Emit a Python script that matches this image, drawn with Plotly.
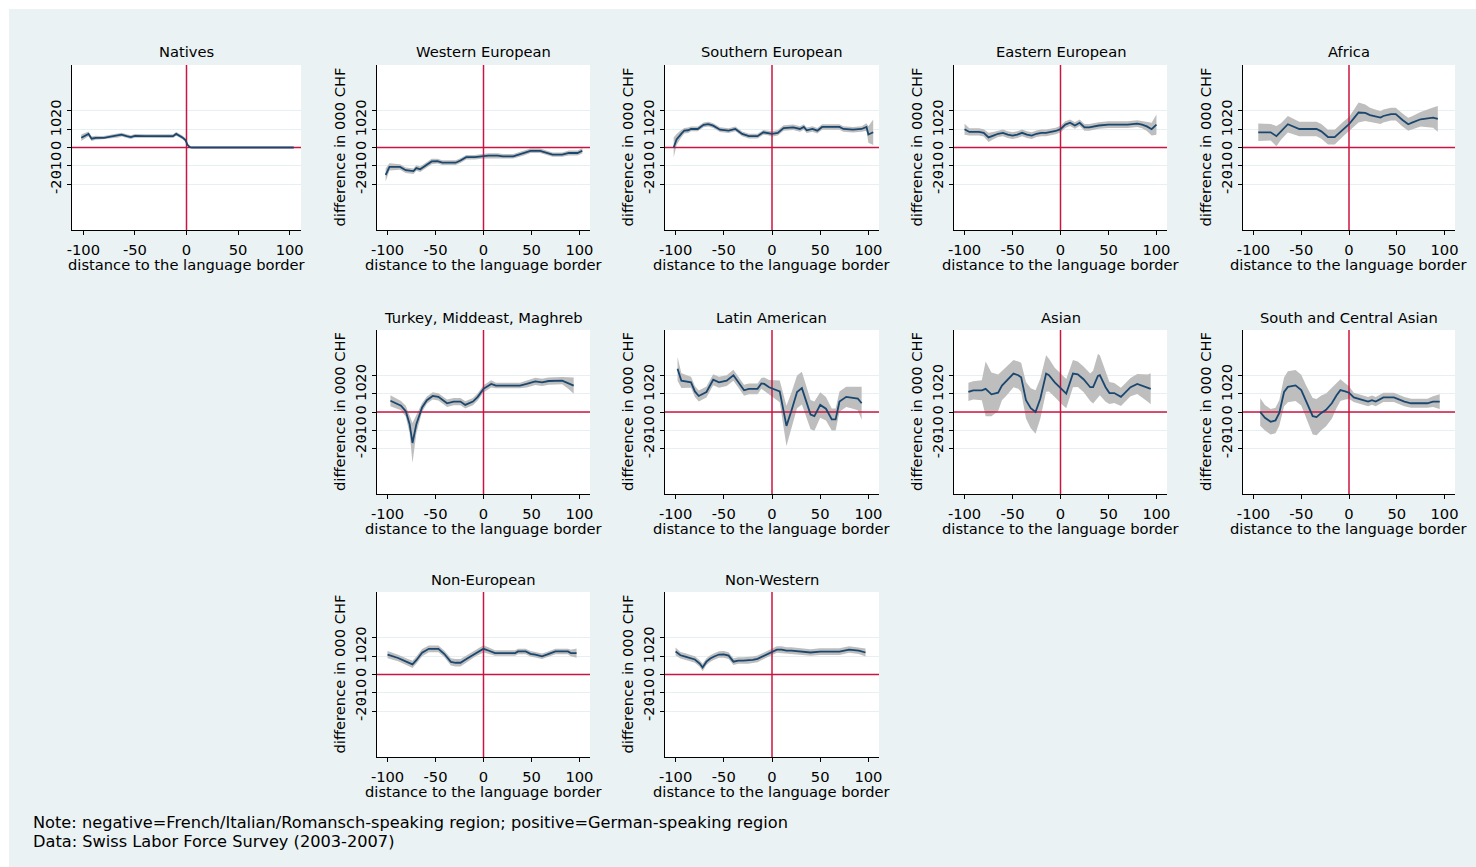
import plotly.graph_objects as go

# ---------------------------------------------------------------------------
# Wage difference (000 CHF) by distance to the language border, per origin group
# x = distance (km), y = point estimate, ci = half width of the 95% band
# ---------------------------------------------------------------------------
natives_x = [-102, -98, -95, -92, -88, -84, -80, -75, -70, -66, -63, -58, -54, -50, -45, -40, -30, -20, -13, -10, -7, -4, -1, 1, 3, 5, 104]
natives_y = [5.3, 6.5, 7.4, 4.8, 5.3, 5.3, 5.3, 5.8, 6.2, 6.5, 7.0, 6.2, 5.7, 6.3, 6.4, 6.2, 6.2, 6.2, 6.2, 7.4, 6.5, 5.5, 4.0, 1.5, 0.3, 0.0, 0.0]
natives_ci = [1.8, 1.5, 1.3, 1.2, 1.1, 1.0, 1.0, 1.0, 1.0, 1.0, 1.0, 1.0, 1.0, 1.0, 1.0, 1.0, 1.0, 1.0, 1.0, 1.0, 1.0, 1.0, 1.0, 0.6, 0.2, 0.0, 0.0]

western_x = [-102, -98, -87, -81, -73, -70, -66, -61, -54, -48, -43, -36, -29, -24, -18, -9, 0, 5, 15, 20, 31, 42, 49, 59, 72, 82, 89, 98, 103]
western_y = [-15.0, -10.6, -10.6, -12.4, -12.9, -11.2, -11.9, -10.1, -7.6, -7.4, -8.3, -8.3, -8.3, -7.1, -5.3, -5.3, -4.8, -4.4, -4.4, -4.8, -4.8, -3.2, -1.8, -1.8, -3.9, -3.9, -3.0, -3.0, -1.8]
western_ci = [3.5, 2.0, 1.5, 1.5, 1.5, 1.5, 1.5, 1.5, 1.5, 1.3, 1.3, 1.3, 1.3, 1.3, 1.2, 1.2, 1.2, 1.2, 1.2, 1.2, 1.2, 1.2, 1.2, 1.2, 1.2, 1.2, 1.3, 1.3, 1.5]

southern_x = [-102, -99, -94, -91, -87, -84, -77, -71, -66, -61, -54, -45, -38, -31, -24, -15, -9, -4, 0, 6, 12, 22, 29, 33, 36, 42, 47, 52, 70, 74, 84, 93, 98, 100, 105]
southern_y = [0.0, 4.4, 7.6, 9.2, 9.4, 10.1, 10.1, 12.4, 12.7, 11.9, 9.7, 9.2, 10.1, 7.4, 6.2, 6.2, 8.3, 8.0, 7.4, 8.0, 10.6, 11.0, 10.1, 11.2, 9.4, 10.1, 9.2, 11.2, 11.2, 10.1, 9.7, 10.1, 11.2, 7.1, 8.3]
southern_ci = [5.5, 3.0, 2.0, 1.5, 1.5, 1.3, 1.3, 1.3, 1.3, 1.3, 1.3, 1.3, 1.3, 1.3, 1.3, 1.3, 1.3, 1.3, 1.5, 1.5, 1.5, 1.5, 1.5, 1.5, 1.5, 1.5, 1.5, 1.5, 1.5, 1.5, 1.5, 1.5, 2.0, 4.5, 7.0]

eastern_x = [-100, -95, -90, -85, -80, -75, -70, -65, -60, -55, -50, -45, -40, -35, -30, -25, -20, -15, -10, -5, 0, 5, 10, 15, 20, 25, 30, 40, 50, 60, 70, 80, 85, 90, 95, 100]
eastern_y = [10.0, 8.5, 8.5, 8.5, 8.0, 5.5, 6.5, 7.5, 8.0, 7.0, 6.5, 7.0, 8.0, 7.0, 6.5, 7.5, 8.0, 8.0, 8.5, 9.0, 10.0, 12.5, 13.5, 12.0, 13.5, 11.0, 11.0, 12.0, 12.5, 12.5, 12.5, 13.0, 12.5, 11.5, 10.0, 12.5]
eastern_ci = [3.0, 2.0, 2.0, 2.0, 2.0, 2.5, 2.0, 1.8, 1.8, 1.8, 1.8, 1.8, 1.8, 1.8, 1.8, 1.8, 1.8, 1.8, 1.8, 1.8, 1.8, 1.8, 1.8, 1.8, 1.8, 1.8, 1.8, 1.8, 1.8, 1.8, 1.8, 1.8, 2.0, 2.5, 3.5, 5.5]

africa_x = [-95, -82, -76, -71, -64, -52, -34, -29, -22, -15, -6, 0, 5, 10, 17, 22, 33, 36, 44, 49, 56, 62, 66, 75, 88, 93]
africa_y = [8.3, 8.3, 6.2, 8.8, 12.7, 10.1, 10.1, 8.8, 5.7, 5.7, 10.1, 12.7, 15.9, 19.1, 18.9, 17.7, 16.3, 17.2, 18.2, 18.2, 15.0, 12.7, 13.6, 15.4, 16.3, 15.6]
africa_ci = [4.8, 4.5, 5.5, 4.5, 4.5, 4.0, 4.0, 4.0, 4.0, 4.0, 4.0, 4.0, 4.5, 5.5, 4.5, 4.0, 3.5, 3.5, 3.5, 3.5, 3.5, 3.5, 3.5, 4.0, 5.5, 7.0]

turkey_x = [-97, -86, -81, -77, -74, -70, -64, -59, -53, -47, -38, -31, -24, -19, -11, -6, 0, 8, 13, 38, 45, 54, 61, 68, 82, 88, 94]
turkey_y = [6.2, 3.5, 0.4, -6.7, -17.0, -6.7, 2.5, 6.5, 8.8, 8.3, 4.8, 5.7, 5.7, 3.9, 5.7, 8.3, 12.7, 15.4, 14.5, 14.5, 15.4, 16.8, 16.3, 17.0, 17.2, 15.9, 14.5]
turkey_ci = [3.0, 2.5, 3.0, 5.0, 11.0, 5.0, 2.5, 2.0, 2.0, 2.0, 2.0, 2.0, 2.0, 2.0, 2.0, 2.0, 2.0, 2.0, 1.5, 1.5, 2.0, 2.0, 2.0, 2.0, 2.0, 3.0, 4.5]

latin_x = [-98, -94, -84, -80, -76, -68, -61, -55, -47, -40, -29, -24, -15, -11, -8, -3, 8, 15, 20, 26, 31, 40, 44, 50, 56, 62, 66, 70, 77, 84, 89, 93]
latin_y = [23.7, 17.2, 16.3, 11.3, 8.8, 11.0, 17.7, 16.3, 17.2, 20.2, 11.9, 12.7, 12.7, 15.7, 15.4, 13.6, 11.3, -7.6, 0.4, 11.0, 13.1, -1.4, -2.3, 3.9, 1.8, -4.1, -4.1, 5.7, 8.3, 7.8, 7.4, 4.8]
latin_ci = [6.5, 4.0, 3.0, 3.0, 3.0, 3.0, 3.0, 3.0, 3.0, 3.0, 3.0, 3.0, 3.0, 3.0, 3.5, 4.0, 6.0, 11.0, 10.0, 9.0, 9.0, 8.0, 8.0, 7.0, 6.5, 6.0, 6.0, 5.5, 5.5, 6.0, 6.5, 9.0]

asian_x = [-96, -91, -82, -78, -72, -65, -61, -56, -49, -44, -41, -36, -31, -26, -21, -15, -12, -6, 1, 6, 13, 18, 24, 31, 34, 39, 41, 47, 51, 56, 63, 73, 80, 91, 94]
asian_y = [11.0, 11.9, 11.9, 12.7, 9.7, 10.6, 14.5, 17.2, 21.1, 20.2, 19.0, 6.5, 2.1, 0.0, 7.4, 21.1, 20.2, 16.3, 12.4, 10.1, 21.1, 20.7, 18.0, 13.6, 13.6, 19.8, 20.2, 13.6, 10.4, 10.4, 8.3, 13.6, 15.4, 13.1, 12.7]
asian_ci = [5.0, 5.0, 5.5, 15.0, 12.0, 10.0, 8.0, 8.0, 7.5, 7.5, 8.0, 10.0, 11.0, 12.0, 11.0, 10.0, 9.0, 8.0, 8.0, 8.0, 7.5, 7.0, 7.0, 7.5, 9.0, 12.0, 11.0, 8.0, 6.0, 5.5, 5.0, 5.0, 5.5, 7.5, 8.5]

scasian_x = [-93, -88, -82, -77, -73, -68, -64, -56, -50, -45, -38, -34, -29, -24, -18, -13, -9, -4, 0, 5, 15, 20, 24, 28, 36, 47, 58, 65, 82, 88, 95]
scasian_y = [0.0, -3.2, -5.4, -4.6, -0.5, 11.0, 13.8, 14.6, 12.0, 5.7, -2.3, -2.8, -0.5, 1.2, 4.8, 9.2, 12.0, 11.3, 10.6, 8.0, 6.5, 5.7, 6.5, 5.7, 8.0, 8.0, 5.7, 4.8, 4.8, 5.7, 5.7]
scasian_ci = [7.5, 7.0, 7.0, 7.0, 7.0, 8.0, 8.5, 8.5, 8.5, 9.0, 10.0, 10.0, 9.5, 9.0, 8.5, 7.0, 6.0, 4.5, 3.5, 2.5, 2.5, 2.5, 2.5, 2.5, 2.5, 2.5, 2.5, 2.5, 2.5, 3.0, 4.0]

noneuro_x = [-100, -89, -80, -74, -70, -64, -57, -47, -41, -34, -29, -24, -17, -8, 0, 5, 12, 33, 36, 44, 49, 54, 61, 66, 75, 88, 91, 97]
noneuro_y = [10.8, 9.0, 6.9, 5.5, 7.8, 11.9, 14.0, 14.0, 11.3, 6.9, 6.4, 6.4, 8.7, 11.7, 14.0, 13.1, 11.7, 11.7, 12.6, 12.6, 11.3, 10.8, 9.9, 10.8, 12.6, 12.6, 11.7, 11.7]
noneuro_ci = [2.0, 1.8, 1.8, 2.0, 2.0, 2.0, 1.8, 1.8, 1.8, 2.0, 2.0, 2.0, 2.0, 1.8, 2.0, 1.8, 1.5, 1.5, 1.5, 1.5, 1.5, 1.5, 1.5, 1.5, 1.5, 1.5, 1.8, 2.5]

nonwest_x = [-100, -95, -90, -85, -80, -75, -72, -68, -64, -60, -55, -50, -45, -40, -35, -30, -25, -20, -15, -10, -5, 0, 5, 10, 15, 20, 30, 40, 50, 60, 70, 80, 90, 97]
nonwest_y = [12.5, 10.5, 9.8, 9.0, 8.2, 6.0, 3.8, 7.0, 8.7, 9.8, 10.9, 11.0, 10.3, 7.0, 7.6, 7.6, 7.6, 8.0, 8.5, 9.8, 11.0, 12.5, 13.6, 13.6, 13.0, 13.0, 12.5, 12.0, 12.5, 12.5, 12.5, 13.6, 13.0, 12.0]
nonwest_ci = [2.2, 1.8, 1.8, 1.8, 1.8, 1.8, 2.0, 1.8, 1.8, 1.8, 1.8, 1.8, 1.8, 1.8, 1.8, 1.8, 1.8, 1.8, 1.8, 1.8, 1.8, 1.8, 1.8, 1.8, 1.8, 1.8, 1.8, 1.8, 1.8, 1.8, 1.8, 1.8, 1.8, 2.2]

x_tick_vals = [-100, -50, 0, 50, 100]
x_tick_text = ["-100", "-50", "0", "50", "100"]
y_tick_vals = [-20, -10, 0, 10, 20]
y_tick_text = ["-20", "-10", "0", "10", "20"]

x_title = "distance to the language border"
y_title = "difference in 000 CHF"
note_lines = [
    "Note: negative=French/Italian/Romansch-speaking region; positive=German-speaking region",
    "Data: Swiss Labor Force Survey (2003-2007)",
]

# (title, row, col, x, y, ci, show y title)
panels = [
    ("Natives", 0, 0, natives_x, natives_y, natives_ci, False),
    ("Western European", 0, 1, western_x, western_y, western_ci, True),
    ("Southern European", 0, 2, southern_x, southern_y, southern_ci, True),
    ("Eastern European", 0, 3, eastern_x, eastern_y, eastern_ci, True),
    ("Africa", 0, 4, africa_x, africa_y, africa_ci, True),
    ("Turkey, Middeast, Maghreb", 1, 1, turkey_x, turkey_y, turkey_ci, True),
    ("Latin American", 1, 2, latin_x, latin_y, latin_ci, True),
    ("Asian", 1, 3, asian_x, asian_y, asian_ci, True),
    ("South and Central Asian", 1, 4, scasian_x, scasian_y, scasian_ci, True),
    ("Non-European", 2, 1, noneuro_x, noneuro_y, noneuro_ci, True),
    ("Non-Western", 2, 2, nonwest_x, nonwest_y, nonwest_ci, True),
]

# ---------------------------------------------------------------------------
# Page geometry (pixels)
# ---------------------------------------------------------------------------
W, H = 1476, 867
COL_PX = [(72, 301), (377, 590), (665, 879), (954, 1167), (1243, 1455)]
ROW_PX = [(65, 230), (330, 494), (592, 757)]
X_RANGE = [-111, 111]
Y_RANGE = [-45, 45]

FONT = "DejaVu Sans"
FS = 14.7
NOTE_FS = 16.2
BG = "#EAF2F3"
GRID = "#E6EFF1"
NAVY = "#1A476F"
BAND = "#BEBEBE"
RED = "#CB1541"

def px_x(p):
    return p / W

def px_y(p):
    return 1 - p / H

fig = go.Figure()
layout = dict(
    width=W, height=H,
    margin=dict(l=0, r=0, t=0, b=0, autoexpand=False),
    paper_bgcolor=BG, plot_bgcolor="white",
    showlegend=False,
    font=dict(family=FONT, size=FS, color="black"),
    annotations=[], shapes=[],
)

for i, (title, r, c, xs, ys, ci, show_ytitle) in enumerate(panels, start=1):
    xa = "x" if i == 1 else f"x{i}"
    ya = "y" if i == 1 else f"y{i}"
    x0, x1 = COL_PX[c]
    y0, y1 = ROW_PX[r]

    hi = [v + w for v, w in zip(ys, ci)]
    lo = [v - w for v, w in zip(ys, ci)]
    fig.add_trace(go.Scatter(
        x=list(xs) + list(xs)[::-1], y=hi + lo[::-1],
        fill="toself", fillcolor=BAND, line=dict(width=0),
        mode="lines", hoverinfo="skip", xaxis=xa, yaxis=ya,
    ))
    # reference lines at the border and at zero difference
    fig.add_trace(go.Scatter(x=X_RANGE, y=[0, 0], mode="lines",
                             line=dict(color=RED, width=1.5), xaxis=xa, yaxis=ya))
    fig.add_trace(go.Scatter(x=[0, 0], y=Y_RANGE, mode="lines",
                             line=dict(color=RED, width=1.5), xaxis=xa, yaxis=ya))
    fig.add_trace(go.Scatter(x=xs, y=ys, mode="lines",
                             line=dict(color=NAVY, width=1.8), xaxis=xa, yaxis=ya))

    key = "" if i == 1 else str(i)
    layout["xaxis" + key] = dict(
        domain=[px_x(x0), px_x(x1)], anchor=ya, range=X_RANGE,
        tickvals=x_tick_vals, ticktext=x_tick_text, automargin=False,
        ticks="outside", ticklen=4, tickcolor="black", tickwidth=1,
        showline=True, linecolor="black", linewidth=1.2,
        showgrid=False, zeroline=False, ticklabelstandoff=2,
        tickfont=dict(family=FONT, size=FS, color="black"),
    )
    layout["yaxis" + key] = dict(
        domain=[px_y(y1), px_y(y0)], anchor=xa, range=Y_RANGE,
        tickvals=y_tick_vals, ticktext=y_tick_text, tickangle=-90,
        automargin=False,
        ticks="outside", ticklen=4, tickcolor="black", tickwidth=1,
        showline=True, linecolor="black", linewidth=1.2,
        showgrid=True, gridcolor=GRID, gridwidth=1, zeroline=False,
        tickfont=dict(family=FONT, size=FS, color="black"),
    )

    cx = px_x((x0 + x1) / 2)
    layout["annotations"].append(dict(
        text=title, x=cx, y=px_y(y0 - 13), xref="paper", yref="paper",
        xanchor="center", yanchor="middle", showarrow=False,
        font=dict(family=FONT, size=FS, color="black"),
    ))
    layout["annotations"].append(dict(
        text=x_title, x=cx, y=px_y(y1 + 34), xref="paper", yref="paper",
        xanchor="center", yanchor="middle", showarrow=False,
        font=dict(family=FONT, size=FS, color="black"),
    ))
    if show_ytitle:
        layout["annotations"].append(dict(
            text=y_title, x=px_x(x0 - 38), y=px_y((y0 + y1) / 2),
            xref="paper", yref="paper", xanchor="center", yanchor="middle",
            textangle=-90, showarrow=False,
            font=dict(family=FONT, size=FS, color="black"),
        ))

for k, line in enumerate(note_lines):
    layout["annotations"].append(dict(
        text=line, x=px_x(31), y=px_y(822 + 19 * k), xref="paper", yref="paper",
        xanchor="left", yanchor="middle", showarrow=False,
        font=dict(family=FONT, size=NOTE_FS, color="black"),
    ))

# thin white frame along the top and left page edges
layout["shapes"] += [
    dict(type="rect", xref="paper", yref="paper", x0=0, x1=px_x(9), y0=0, y1=1,
         fillcolor="white", line=dict(width=0), layer="below"),
    dict(type="rect", xref="paper", yref="paper", x0=0, x1=1, y0=px_y(9), y1=1,
         fillcolor="white", line=dict(width=0), layer="below"),
]

fig.update_layout(**layout)
fig.write_html("out.html")
